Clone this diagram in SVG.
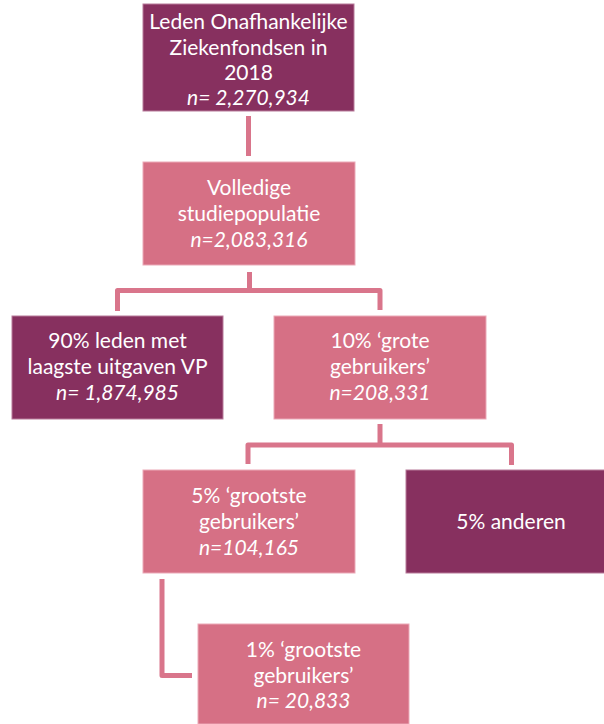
<svg xmlns="http://www.w3.org/2000/svg" width="604" height="724" viewBox="0 0 604 724">
<style>
.dark{fill:#87305F;stroke:#B77A9A;stroke-width:1}
.pink{fill:#D67085;stroke:#EBA9B7;stroke-width:1}
text{font-family:Lato,"Open Sans","Liberation Sans",sans-serif;font-size:21px;fill:#FFFFFF;text-anchor:middle}
.it{font-style:italic}
.conn{fill:none;stroke:#D9758B;stroke-width:5;stroke-linejoin:round;stroke-linecap:butt}
</style>
<rect width="604" height="724" fill="#FFFFFF"/>
<g id="connectors">
<path class="conn" d="M248.5 116 V156"/>
<path class="conn" d="M249.5 272 V290.5"/>
<path class="conn" d="M117.5 311 V290.5 H380 V310"/>
<path class="conn" d="M380 424 V445"/>
<path class="conn" d="M248 464 V445 H511.5 V465"/>
<path class="conn" d="M162 579 V675.5 H192"/>
</g>
<g id="n-leden">
<rect class="dark" x="143" y="4" width="211" height="107"/>
<text x="248.5" y="29">Leden Onafhankelijke</text>
<text x="248.5" y="54.5">Ziekenfondsen in</text>
<text x="248.5" y="79.5">2018</text>
<text class="it" x="248.5" y="104.5">n= 2,270,934</text>
</g>
<g id="n-volledig">
<rect class="pink" x="143" y="162" width="212" height="103"/>
<text x="249" y="195">Volledige</text>
<text x="249" y="221">studiepopulatie</text>
<text class="it" x="249" y="247">n=2,083,316</text>
</g>
<g id="n-90">
<rect class="dark" x="12" y="316" width="211" height="103"/>
<text x="117.5" y="348">90% leden met</text>
<text x="117.5" y="374">laagste uitgaven VP</text>
<text class="it" x="117.5" y="400">n= 1,874,985</text>
</g>
<g id="n-10">
<rect class="pink" x="274" y="316" width="212" height="103"/>
<text x="380" y="348">10% ‘grote</text>
<text x="380" y="374">gebruikers’</text>
<text class="it" x="380" y="400">n=208,331</text>
</g>
<g id="n-5g">
<rect class="pink" x="143" y="470" width="212" height="103"/>
<text x="249" y="503">5% ‘grootste</text>
<text x="249" y="529">gebruikers’</text>
<text class="it" x="249" y="555">n=104,165</text>
</g>
<g id="n-5a">
<rect class="dark" x="406" y="470" width="210" height="103"/>
<text x="511" y="529">5% anderen</text>
</g>
<g id="n-1">
<rect class="pink" x="198" y="624" width="211" height="100"/>
<text x="303.5" y="657">1% ‘grootste</text>
<text x="303.5" y="683">gebruikers’</text>
<text class="it" x="303.5" y="708">n= 20,833</text>
</g>
</svg>
